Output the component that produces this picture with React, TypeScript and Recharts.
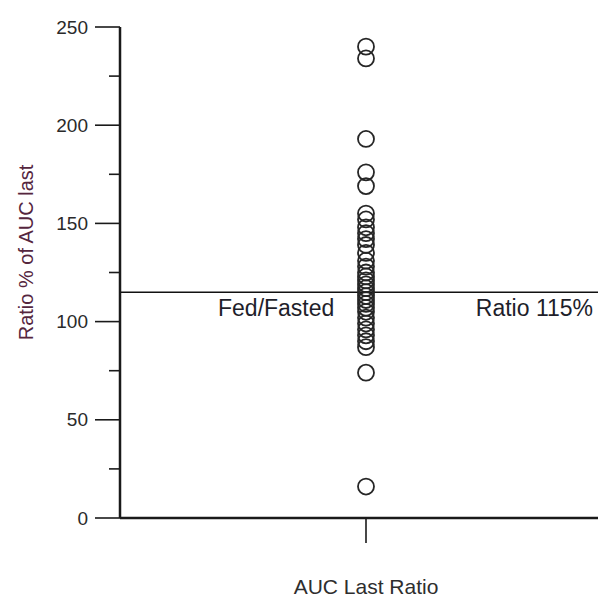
import React from 'react';
import {
  ScatterChart,
  Scatter,
  XAxis,
  YAxis,
  ReferenceLine,
  Label,
} from 'recharts';

// values (ratio %, one column of points)
const ratioValues = [
  240, 234, 193, 176, 169, 155, 152, 148, 145, 142, 139, 135, 131, 128, 125,
  123, 121, 119, 117, 115, 113, 111, 109, 107, 105, 102, 99, 96, 93, 90, 87,
  74, 16,
];
const categoryX = 1;
const yTicks = [0, 25, 50, 75, 100, 125, 150, 175, 200, 225, 250];
const xTicks = [1];
const referenceRatio = 115;
const refLeftLabel = 'Fed/Fasted';
const refRightLabel = 'Ratio 115%';
const yTitle = 'Ratio % of AUC last';
const xTitle = 'AUC Last Ratio';

const points = ratioValues.map((v) => ({ x: categoryX, y: v }));

const FONT = '"Liberation Sans", Arial, sans-serif';

const YTick = (props: any) => {
  const { x, y, payload } = props;
  const major = payload.value % 50 === 0;
  return (
    <g>
      <line x1={x - (major ? 25 : 11)} x2={x} y1={y} y2={y} stroke="#1a1a1a" strokeWidth={1.6} />
      {major && (
        <text x={x - 32} y={y} dy="0.35em" textAnchor="end" fontSize={19} fontFamily={FONT} fill="#2a2a2a">
          {payload.value}
        </text>
      )}
    </g>
  );
};

const Circle = (props: any) => {
  const { cx, cy } = props;
  return <circle cx={cx} cy={cy} r={8} fill="none" stroke="#262626" strokeWidth={1.8} />;
};

const RefLabels = (props: any) => {
  const vb = props.viewBox;
  return (
    <g fontFamily={FONT} fontSize={23} fill="#1e1e2a">
      <text x={vb.x + 98} y={vb.y + 24}>{refLeftLabel}</text>
      <text x={vb.x + vb.width - 19} y={vb.y + 24} textAnchor="end">{refRightLabel}</text>
    </g>
  );
};

const YTitle = (props: any) => {
  const vb = props.viewBox;
  const cx = vb.x + 33;
  const cy = vb.y + vb.height / 2 - 20;
  return (
    <text x={cx} y={cy} transform={`rotate(-90, ${cx}, ${cy})`} textAnchor="middle" fontSize={20} fontFamily={FONT} fill="#55263e">
      {yTitle}
    </text>
  );
};

const XTitle = (props: any) => {
  const vb = props.viewBox;
  return (
    <text x={vb.x + vb.width / 2} y={vb.y + vb.height - 6} textAnchor="middle" fontSize={21} fontFamily={FONT} fill="#2e2e2e">
      {xTitle}
    </text>
  );
};

export default function App() {
  return (
    <div style={{ position: 'absolute', left: 0, top: 0, width: 598, height: 600, background: '#fff' }}>
      <ScatterChart width={598} height={600} margin={{ top: 27, right: -14, bottom: 0, left: 0 }}>
        <XAxis
          type="number"
          dataKey="x"
          domain={[0, 2]}
          ticks={xTicks}
          tickSize={25}
          tickFormatter={() => ''}
          height={82}
          axisLine={{ stroke: '#1a1a1a', strokeWidth: 2.5 }}
          tickLine={{ stroke: '#1a1a1a', strokeWidth: 1.6 }}
        >
          <Label content={XTitle} />
        </XAxis>
        <YAxis
          type="number"
          dataKey="y"
          domain={[0, 250]}
          ticks={yTicks}
          interval={0}
          width={120}
          tickSize={0}
          tickMargin={0}
          tickLine={false}
          tick={YTick}
          axisLine={{ stroke: '#1a1a1a', strokeWidth: 2.5 }}
        >
          <Label content={YTitle} />
        </YAxis>
        <ReferenceLine y={referenceRatio} stroke="#111" strokeWidth={1.5} label={{ content: RefLabels }} />
        <Scatter data={points} shape={Circle} isAnimationActive={false} />
      </ScatterChart>
    </div>
  );
}
